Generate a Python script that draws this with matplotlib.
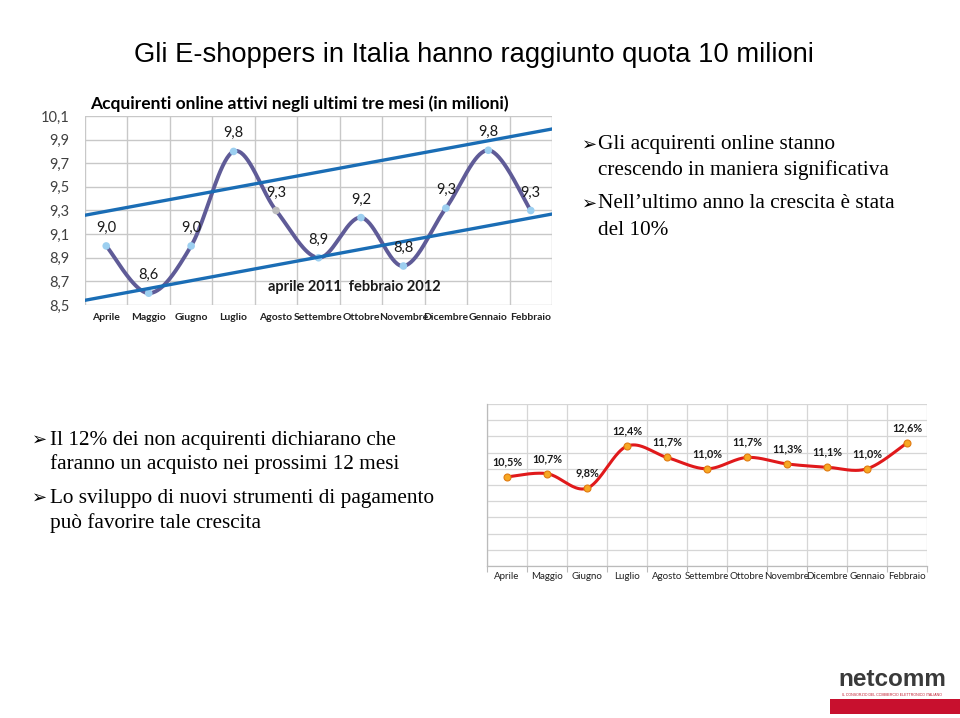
import numpy as np
import matplotlib
matplotlib.use("Agg")
import matplotlib.pyplot as plt
from matplotlib.patches import Rectangle

# ---------------- data ----------------
months = ["Aprile", "Maggio", "Giugno", "Luglio", "Agosto", "Settembre",
          "Ottobre", "Novembre", "Dicembre", "Gennaio", "Febbraio"]
buyers = [9.0, 8.6, 9.0, 9.8, 9.3, 8.9, 9.24, 8.83, 9.32, 9.81, 9.3]
buyer_labels = ["9,0", "8,6", "9,0", "9,8", "9,3", "8,9", "9,2", "8,8", "9,3", "9,8", "9,3"]
trend_upper = [9.26, 9.99]   # value at left edge, value at right edge
trend_lower = [8.54, 9.27]
yticks_top = [8.5, 8.7, 8.9, 9.1, 9.3, 9.5, 9.7, 9.9, 10.1]

intent = [10.5, 10.7, 9.8, 12.4, 11.7, 11.0, 11.7, 11.3, 11.1, 11.0, 12.6]
intent_labels = ["10,5%", "10,7%", "9,8%", "12,4%", "11,7%", "11,0%",
                 "11,7%", "11,3%", "11,1%", "11,0%", "12,6%"]

W, H = 960, 718
fig = plt.figure(figsize=(W / 100, H / 100), dpi=100)
fig.patch.set_facecolor("white")

CAL = ["Lato", "DejaVu Sans"]
SERIF = ["Liberation Serif", "DejaVu Sans"]


def ax_px(l, t, r, b):
    return fig.add_axes([l / W, (H - b) / H, (r - l) / W, (b - t) / H])


def smooth(xs, ys, n=40):
    pts = np.column_stack([xs, ys]).astype(float)
    out = []
    m = len(pts)
    t = np.linspace(0, 1, n)[:, None]
    for i in range(m - 1):
        p0 = pts[i - 1] if i > 0 else pts[i]
        p1 = pts[i]
        p2 = pts[i + 1]
        p3 = pts[i + 2] if i + 2 < m else pts[i + 1]
        c1 = p1 + (p2 - p0) / 6.0
        c2 = p2 - (p3 - p1) / 6.0
        seg = ((1 - t) ** 3) * p1 + 3 * ((1 - t) ** 2) * t * c1 + 3 * (1 - t) * t ** 2 * c2 + t ** 3 * p2
        out.append(seg if i == 0 else seg[1:])
    out = np.vstack(out)
    return out[:, 0], out[:, 1]


# ---------------- slide title ----------------
fig.text(474 / W, 1 - 55 / H, "Gli E-shoppers in Italia hanno raggiunto quota 10 milioni",
         ha="center", va="center", fontsize=19.7, family=["Liberation Sans"], color="black")

# ---------------- top chart ----------------
ax = ax_px(85, 116, 552, 305)
x = np.arange(len(months))
ax.set_xlim(-0.5, len(months) - 0.5)
ax.set_ylim(8.5, 10.1)
ax.set_yticks(yticks_top)
ax.set_yticklabels([f"{v:.1f}".replace(".", ",") for v in yticks_top],
                   family=CAL, fontsize=10.5, color="#404040")
ax.set_xticks(x)
ax.set_xticklabels(months, family=CAL, fontsize=7.5, fontweight="bold", color="#222222")
ax.tick_params(axis="both", which="both", length=0)
ax.tick_params(axis="x", pad=6)
ax.tick_params(axis="y", pad=11)
ax.grid(False)
for b in np.arange(-0.5, len(months)):
    ax.axvline(b, color="#C8C8C8", lw=1.0, zorder=0)
for v in yticks_top:
    ax.axhline(v, color="#C8C8C8", lw=1.0, zorder=0)
for s in ax.spines.values():
    s.set_visible(False)

sx, sy = smooth(x, buyers)
ax.plot(sx, sy, color="#5F5B97", lw=2.8, zorder=3, solid_capstyle="round")
mcols = ["#9CCFF0"] * len(months)
mcols[4] = "#BDBDBD"
ax.scatter(x, buyers, s=30, c=mcols, zorder=4, edgecolors="none")
ax.plot([-0.5, len(months) - 0.5], trend_upper, color="#1A6DB5", lw=2.4, zorder=5)
ax.plot([-0.5, len(months) - 0.5], trend_lower, color="#1A6DB5", lw=2.4, zorder=5)
for xi, yi, lab in zip(x, buyers, buyer_labels):
    ax.annotate(lab, (xi, yi), xytext=(0, 13), textcoords="offset points",
                ha="center", va="center", family=CAL, fontsize=10.5, color="#1a1a1a", zorder=6)
ax.text(0.576, 0.095, "aprile 2011  febbraio 2012", transform=ax.transAxes,
        ha="center", va="center", family=CAL, fontsize=10.5, fontweight="bold", color="#1a1a1a")
ax.set_title("Acquirenti online attivi negli ultimi tre mesi (in milioni)",
             family=CAL, fontsize=12.5, fontweight="bold", color="black", pad=5, loc="left", x=0.01)

# ---------------- right bullets ----------------
bul_x, txt_x = 582, 598
lines_r = [(145, True, "Gli acquirenti online stanno"),
           (170, False, "crescendo in maniera significativa"),
           (204, True, "Nell\u2019ultimo anno la crescita \u00e8 stata"),
           (230, False, "del 10%")]
for yy, bullet, txt in lines_r:
    if bullet:
        fig.text(bul_x / W, 1 - yy / H, "\u27a2", ha="left", va="center", fontsize=13,
                 family=["DejaVu Sans"], color="black")
    fig.text(txt_x / W, 1 - yy / H, txt, ha="left", va="center", fontsize=15.3,
             family=SERIF, color="black")

# ---------------- left bullets ----------------
lines_l = [(440, True, "Il 12% dei non acquirenti dichiarano che"),
           (464, False, "faranno un acquisto nei prossimi 12 mesi"),
           (498, True, "Lo sviluppo di nuovi strumenti di pagamento"),
           (523, False, "pu\u00f2 favorire tale crescita")]
for yy, bullet, txt in lines_l:
    if bullet:
        fig.text(32 / W, 1 - yy / H, "\u27a2", ha="left", va="center", fontsize=13,
                 family=["DejaVu Sans"], color="black")
    fig.text(50 / W, 1 - yy / H, txt, ha="left", va="center", fontsize=15.3,
             family=SERIF, color="black")

# ---------------- bottom chart ----------------
ax2 = ax_px(487, 404, 927, 566)
ax2.set_xlim(-0.5, len(months) - 0.5)
ax2.set_ylim(5, 15)
ax2.set_yticks(np.arange(5, 16, 1))
ax2.set_yticklabels([])
ax2.set_xticks(x)
ax2.set_xticklabels(months, family=CAL, fontsize=7, color="#222222")
ax2.set_xticks(np.arange(-0.5, len(months)), minor=True)
ax2.tick_params(axis="x", which="major", length=0, pad=4)
ax2.tick_params(axis="x", which="minor", length=4, color="#BBBBBB", width=0.8)
ax2.tick_params(axis="y", length=0)
for b in np.arange(-0.5, len(months)):
    ax2.axvline(b, color="#D6D6D6", lw=0.9, zorder=0)
for v in np.arange(5, 16, 1):
    ax2.axhline(v, color="#D6D6D6", lw=0.9, zorder=0)
for k, s in ax2.spines.items():
    s.set_visible(k in ("left", "bottom"))
    s.set_color("#BBBBBB")
    s.set_linewidth(0.9)
sx2, sy2 = smooth(x, intent)
ax2.plot(sx2, sy2, color="#E0191B", lw=2.2, zorder=3)
ax2.plot(x, intent, ls="none", marker="o", ms=5, mfc="#F7A823", mec="#E07A10", mew=0.8, zorder=4)
for xi, yi, lab in zip(x, intent, intent_labels):
    ax2.annotate(lab, (xi, yi), xytext=(0, 11), textcoords="offset points",
                 ha="center", va="center", family=CAL, fontsize=7.8, fontweight="bold",
                 color="#1a1a1a", zorder=6)

# ---------------- logo ----------------
fig.text(892 / W, 1 - 680 / H, "netcomm", ha="center", va="center", fontsize=17.5,
         family=["Liberation Sans"], fontweight="bold", color="#3a3a3a")
fig.text(892 / W, 1 - 695.5 / H, "IL CONSORZIO DEL COMMERCIO ELETTRONICO ITALIANO",
         ha="center", va="center", fontsize=2.6, family=["Liberation Sans"], color="#C0182B")
fig.patches.append(Rectangle((830 / W, 1 - 714 / H), 130 / W, 15 / H,
                             transform=fig.transFigure, facecolor="#C8102E",
                             edgecolor="none", figure=fig))

fig.savefig("out.png", dpi=100, facecolor="white")
